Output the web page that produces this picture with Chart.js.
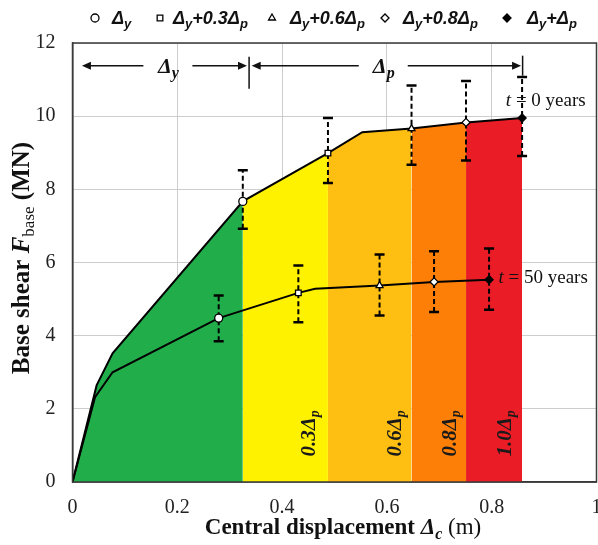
<!DOCTYPE html>
<html>
<head>
<meta charset="utf-8">
<script src="https://cdn.jsdelivr.net/npm/chart.js@4/dist/chart.umd.min.js"></script>
<style>
html,body{margin:0;padding:0;background:#fff;overflow:hidden;}
#wrap{width:598px;height:545px;position:relative;overflow:hidden;}
</style>
</head>
<body>
<div id="wrap"><canvas id="c" width="604" height="545"></canvas></div>
<script>
// ---- data ----
const xTicks = [0, 0.2, 0.4, 0.6, 0.8, 1];
const xTickLabels = ['0', '0.2', '0.4', '0.6', '0.8', '1'];
const yTicks = [0, 2, 4, 6, 8, 10, 12];

// t = 0 years capacity curve
const t0X = [0, 0.046, 0.0765, 0.325, 0.4875, 0.553, 0.647, 0.751, 0.858];
const t0Y = [0, 2.64, 3.52, 7.67, 8.99, 9.56, 9.66, 9.83, 9.95];
const t0Markers = [3, 4, 6, 7, 8];
const t0Lo = [6.92, 8.17, 8.67, 8.79, 8.91];
const t0Hi = [8.52, 9.95, 10.84, 10.96, 11.07];

// t = 50 years capacity curve
const t50X = [0, 0.043, 0.0765, 0.279, 0.431, 0.463, 0.586, 0.69, 0.795];
const t50Y = [0, 2.32, 3.0, 4.48, 5.17, 5.28, 5.37, 5.47, 5.53];
const t50Markers = [3, 4, 6, 7, 8];
const t50Lo = [3.85, 4.37, 4.55, 4.65, 4.71];
const t50Hi = [5.10, 5.92, 6.22, 6.31, 6.38];

// marker kinds (legend order)
const markerStyles = ['circle', 'rect', 'triangle', 'rectRot', 'rectRot'];
const markerFills = ['#ffffff', '#ffffff', '#ffffff', '#ffffff', '#000000'];
const legendNames = [
  [['Δ', 0], ['y', 1]],
  [['Δ', 0], ['y', 1], ['+0.3Δ', 0], ['p', 1]],
  [['Δ', 0], ['y', 1], ['+0.6Δ', 0], ['p', 1]],
  [['Δ', 0], ['y', 1], ['+0.8Δ', 0], ['p', 1]],
  [['Δ', 0], ['y', 1], ['+Δ', 0], ['p', 1]]
];

// damage zones under the t = 0 curve
const zoneBounds = [0, 0.325, 0.4875, 0.647, 0.751, 0.858];
const zoneColors = ['#22ad4b', '#fff200', '#ffbf12', '#fd7f07', '#ea1c26'];
const zoneLabels = ['0.3', '0.6', '0.8', '1.0'];
const zoneLabelX = [0.450, 0.613, 0.718, 0.823];
const zoneLabelY = 1.33;

// Δy / Δp span annotation
const spanY = 11.38;
const spanDy = [0.018, 0.333];
const spanDp = [0.342, 0.856];
const spanDyLabelX = 0.183;
const spanDpLabelX = 0.594;
const spanTicksX = [0.337, 0.859];

// curve labels
const curveLabels = ['0', '50'];
const curveLabelX = [0.827, 0.813];
const curveLabelY = [10.43, 5.59];

// ---- build ----
const SERIF = '"Liberation Serif","Times New Roman",serif';
const SANS = '"Liberation Sans",Arial,sans-serif';
const datasets = [];
zoneColors.forEach((col, i) => {
  const lo = zoneBounds[i], hi = zoneBounds[i + 1];
  const pts = t0X.map((x, k) => ({x, y: t0Y[k]})).filter(p => p.x >= lo - 1e-9 && p.x <= hi + 1e-9);
  datasets.push({data: pts, backgroundColor: col, borderWidth: 0, borderColor: col,
    fill: 'origin', pointRadius: 0, tension: 0, order: 100 + i});
});
function addErr(xs, markers, lo, hi, base) {
  markers.forEach((idx, k) => {
    datasets.push({data: [{x: xs[idx], y: lo[k]}, {x: xs[idx], y: hi[k]}],
      borderColor: '#000', borderWidth: 2, borderDash: [5, 3], fill: false,
      pointStyle: 'line', pointRadius: 5, pointBorderWidth: 2.5, pointBorderColor: '#000',
      order: base + k});
  });
}
addErr(t0X, t0Markers, t0Lo, t0Hi, 50);
addErr(t50X, t50Markers, t50Lo, t50Hi, 60);
function addCurve(xs, ys, markers, ord) {
  datasets.push({
    data: xs.map((x, k) => ({x, y: ys[k]})),
    borderColor: '#000', borderWidth: 2, fill: false, tension: 0,
    pointRadius: xs.map((_, k) => markers.includes(k) ? 4 : 0),
    pointStyle: xs.map((_, k) => markers.includes(k) ? markerStyles[markers.indexOf(k)] : 'circle'),
    pointBackgroundColor: xs.map((_, k) => markers.includes(k) ? markerFills[markers.indexOf(k)] : '#000'),
    pointBorderColor: '#000', pointBorderWidth: 1.3,
    order: ord
  });
}
addCurve(t0X, t0Y, t0Markers, 1);
addCurve(t50X, t50Y, t50Markers, 2);

function richWidth(ctx, parts) {
  let w = 0;
  parts.forEach(p => { ctx.font = p.f; w += ctx.measureText(p.t).width; });
  return w;
}
function drawRich(ctx, parts, x, y, align) {
  const w = richWidth(ctx, parts);
  let cx = align === 'center' ? x - w / 2 : (align === 'right' ? x - w : x);
  ctx.textAlign = 'left';
  ctx.textBaseline = 'alphabetic';
  parts.forEach(p => {
    ctx.font = p.f;
    ctx.fillText(p.t, cx, y + (p.dy || 0));
    cx += ctx.measureText(p.t).width;
  });
}
function arrowHead(ctx, x, y, dir) {
  ctx.beginPath();
  ctx.moveTo(x, y);
  ctx.lineTo(x - dir * 9, y - 4);
  ctx.lineTo(x - dir * 9, y + 4);
  ctx.closePath();
  ctx.fill();
}

const decor = {
  id: 'decor',
  afterDraw(chart) {
    const ctx = chart.ctx, xs = chart.scales.x, ys = chart.scales.y, a = chart.chartArea;
    ctx.save();
    // frame
    ctx.strokeStyle = '#3a3a3a'; ctx.lineWidth = 1.5; ctx.setLineDash([]);
    ctx.strokeRect(a.left, a.top, a.right - a.left, a.bottom - a.top);
    ctx.fillStyle = '#111'; ctx.strokeStyle = '#111';

    // legend
    const legMarkX = [95, 160, 272, 385, 507];
    const legTextX = [112, 173, 290, 403, 527];
    const BI = 'italic bold 18px ' + SANS, BIs = 'italic bold 13px ' + SANS;
    legendNames.forEach((parts, i) => {
      ctx.fillStyle = markerFills[i]; ctx.strokeStyle = '#000'; ctx.lineWidth = 1.3;
      Chart.helpers.drawPoint(ctx, {pointStyle: markerStyles[i], radius: 4, borderWidth: 1.3, rotation: 0}, legMarkX[i], 18);
      ctx.fillStyle = '#111';
      drawRich(ctx, parts.map(p => ({t: p[0], f: p[1] ? BIs : BI, dy: p[1] ? 4 : 0})), legTextX[i], 24, 'left');
    });

    // span arrows
    const py = ys.getPixelForValue(spanY);
    ctx.lineWidth = 1.5; ctx.strokeStyle = '#111'; ctx.fillStyle = '#111';
    function span(r, lx, sub) {
      const x0 = xs.getPixelForValue(r[0]), x1 = xs.getPixelForValue(r[1]), lxp = xs.getPixelForValue(lx);
      ctx.beginPath();
      ctx.moveTo(x0 + 6, py); ctx.lineTo(lxp - 25, py);
      ctx.moveTo(lxp + 24, py); ctx.lineTo(x1 - 6, py);
      ctx.stroke();
      arrowHead(ctx, x0, py, -1);
      arrowHead(ctx, x1, py, 1);
      drawRich(ctx, [{t: 'Δ', f: 'italic bold 22px ' + SERIF}, {t: sub, f: 'italic bold 16px ' + SERIF, dy: 5}], lxp, py + 7, 'center');
    }
    span(spanDy, spanDyLabelX, 'y');
    span(spanDp, spanDpLabelX, 'p');
    const tx0 = xs.getPixelForValue(spanTicksX[0]);
    ctx.beginPath(); ctx.moveTo(tx0, py - 9); ctx.lineTo(tx0, py + 23); ctx.stroke();
    const tx1 = xs.getPixelForValue(spanTicksX[1]);
    ctx.beginPath(); ctx.moveTo(tx1, py - 10); ctx.lineTo(tx1, py + 10); ctx.stroke();

    // curve labels
    curveLabels.forEach((v, i) => {
      drawRich(ctx, [{t: 't', f: 'italic 19px ' + SERIF}, {t: ' = ' + v + ' years', f: '19px ' + SERIF}],
        xs.getPixelForValue(curveLabelX[i]), ys.getPixelForValue(curveLabelY[i]) + 6, 'left');
    });

    // zone labels (rotated)
    zoneLabels.forEach((v, i) => {
      ctx.save();
      ctx.translate(xs.getPixelForValue(zoneLabelX[i]), ys.getPixelForValue(zoneLabelY));
      ctx.rotate(-Math.PI / 2);
      ctx.fillStyle = '#1a1a1a';
      drawRich(ctx, [{t: v + 'Δ', f: 'italic bold 21px ' + SERIF}, {t: 'p', f: 'italic bold 14px ' + SERIF, dy: 4}], 0, 7, 'center');
      ctx.restore();
    });

    // axis titles
    ctx.fillStyle = '#111';
    drawRich(ctx, [
      {t: 'Central displacement ', f: 'bold 23px ' + SERIF},
      {t: 'Δ', f: 'italic bold 23px ' + SERIF},
      {t: 'c', f: 'italic bold 16px ' + SERIF, dy: 5},
      {t: ' (m)', f: '23px ' + SERIF}
    ], 343, 534, 'center');
    ctx.save();
    ctx.translate(21, 258);
    ctx.rotate(-Math.PI / 2);
    drawRich(ctx, [
      {t: 'Base shear ', f: 'bold 25px ' + SERIF},
      {t: 'F', f: 'italic bold 25px ' + SERIF},
      {t: 'base', f: '17px ' + SERIF, dy: 5},
      {t: ' (MN)', f: 'bold 25px ' + SERIF}
    ], 0, 8, 'center');
    ctx.restore();
    ctx.restore();
  }
};

new Chart(document.getElementById('c'), {
  type: 'line',
  data: {datasets},
  options: {
    responsive: false,
    animation: false,
    layout: {padding: {left: 0, right: 0, top: 43, bottom: 0}},
    plugins: {legend: {display: false}, tooltip: {enabled: false}},
    scales: {
      x: {
        type: 'linear', min: 0, max: 1, z: 1,
        afterBuildTicks: s => { s.ticks = xTicks.map(v => ({value: v})); },
        afterFit: s => { s.height = 63; s.paddingLeft = 0; s.paddingRight = 0; },
        ticks: {font: {family: SERIF, size: 20}, color: '#222', padding: 14,
          callback: (v) => { const i = xTicks.indexOf(v); return i >= 0 ? xTickLabels[i] : ''; }},
        grid: {color: 'rgba(200,200,200,0.9)', drawTicks: false, lineWidth: 1},
        border: {display: true, color: '#3a3a3a', width: 1.5}
      },
      y: {
        type: 'linear', min: 0, max: 12, z: 1,
        afterBuildTicks: s => { s.ticks = yTicks.map(v => ({value: v})); },
        afterFit: s => { s.width = 72.5; s.paddingTop = 0; s.paddingBottom = 0; },
        ticks: {font: {family: SERIF, size: 20}, color: '#222', padding: 17},
        grid: {color: 'rgba(200,200,200,0.9)', drawTicks: false, lineWidth: 1},
        border: {display: true, color: '#3a3a3a', width: 1.5}
      }
    }
  },
  plugins: [decor]
});
</script>
</body>
</html>
